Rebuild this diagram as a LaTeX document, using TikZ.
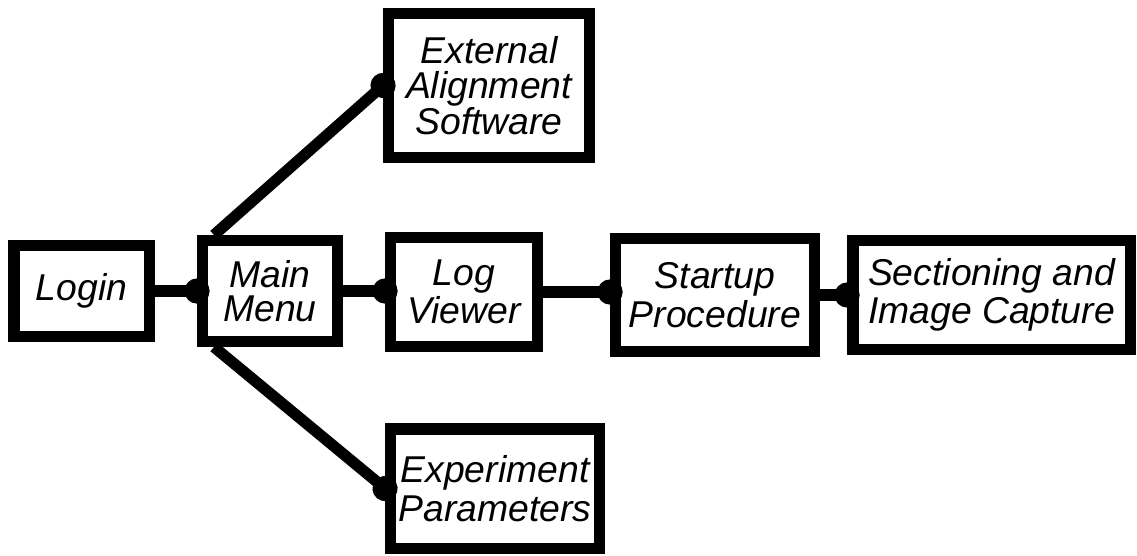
\documentclass[tikz,border=0pt]{standalone}
\usepackage{fontspec}
\setmainfont{Liberation Sans}
\usetikzlibrary{arrows.meta}

\begin{document}
\begin{tikzpicture}[x=0.75pt,y=0.75pt,yscale=-1,
  box/.style={draw, line width=8.6pt, align=center, inner sep=0pt,
    font=\itshape\fontsize{28}{29}\selectfont},
  tight/.style={font=\itshape\fontsize{28}{26}\selectfont},
  link/.style={line width=8.4pt, -{Circle[length=18.75pt]}, shorten >=-9.4pt}]
\useasboundingbox (0,0) rectangle (1137,556);

% Boxes
\node[box, minimum width=101.6pt, minimum height=67.9pt] (login) at (81.5,291) {Login};
\node[box, tight, minimum width=100.9pt, minimum height=75.4pt] (menu) at (270,291) {Main\\Menu};
\node[box, minimum width=109.9pt, minimum height=81.4pt] (logview) at (464,292) {Log\\Viewer};
\node[box, minimum width=148.9pt, minimum height=84.4pt] (startup) at (715,295) {Startup\\Procedure};
\node[box, minimum width=208.1pt, minimum height=81.4pt] (section) at (991.5,295) {Sectioning and\\Image Capture};
\node[box, tight, minimum width=150.4pt, minimum height=107.6pt] (align) at (489,85.5) {External\\Alignment\\Software};
\node[box, minimum width=156.4pt, minimum height=89.6pt] (params) at (495,488.5) {Experiment\\Parameters};

% Connectors
\draw[link] (login.east) -- (menu.west);
\draw[link] (menu.east) -- (menu.east -| logview.west);
\draw[link] (logview.east) -- (logview.east -| startup.west);
\draw[link] (startup.east) -- (section.west);
\draw[link] (menu.135) -- (align.west);
\draw[link] (menu.225) -- (params.west);

\end{tikzpicture}
\end{document}
